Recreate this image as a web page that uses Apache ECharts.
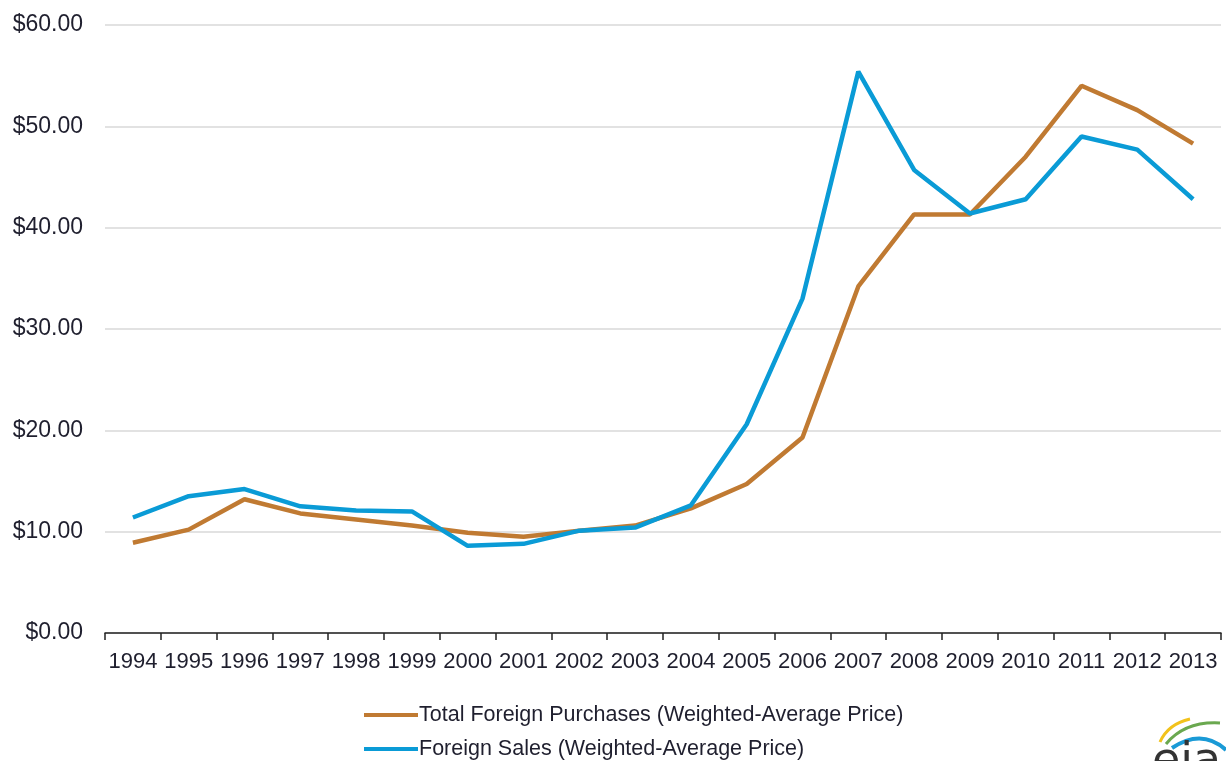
<!DOCTYPE html>
<html>
<head>
<meta charset="utf-8">
<script src="https://cdn.jsdelivr.net/npm/echarts@6/dist/echarts.min.js"></script>
<style>
  html, body { margin: 0; padding: 0; background: #fff; }
  #chart { width: 1226px; height: 761px; }
</style>
</head>
<body>
<div id="chart"></div>
<script>
const years = ['1994', '1995', '1996', '1997', '1998', '1999', '2000', '2001', '2002', '2003',
  '2004', '2005', '2006', '2007', '2008', '2009', '2010', '2011', '2012', '2013'];
const purchases = [8.9, 10.2, 13.2, 11.8, 11.2, 10.6, 9.9, 9.5, 10.1, 10.6,
  12.3, 14.7, 19.3, 34.2, 41.3, 41.3, 47.0, 54.0, 51.6, 48.3];
const sales = [11.4, 13.5, 14.2, 12.5, 12.1, 12.0, 8.6, 8.8, 10.1, 10.4,
  12.6, 20.6, 33.0, 55.4, 45.7, 41.4, 42.8, 49.0, 47.7, 42.8];

const chart = echarts.init(document.getElementById('chart'));
const textColor = '#1f1f2e';

const option = {
  animation: false,
  grid: { left: 105, right: 5, top: 25, bottom: 128 },
  legend: {
    orient: 'vertical',
    left: 364,
    top: 704,
    padding: 0,
    itemWidth: 54,
    itemHeight: 4,
    itemGap: 12,
    icon: 'rect',
    textStyle: { color: textColor, fontSize: 21.5, fontFamily: 'Liberation Sans', padding: [0, 0, 0, -4] },
    data: ['Total Foreign Purchases (Weighted-Average Price)', 'Foreign Sales (Weighted-Average Price)']
  },
  xAxis: {
    type: 'category',
    data: years,
    boundaryGap: true,
    axisLine: { show: true, lineStyle: { color: '#222', width: 1.5 } },
    axisTick: { show: true, inside: false, length: 7, lineStyle: { color: '#222', width: 1.5 } },
    axisLabel: { interval: 0, color: textColor, fontSize: 22, fontFamily: 'Liberation Sans', margin: 18 }
  },
  yAxis: {
    type: 'value',
    min: 0,
    max: 60,
    interval: 10,
    axisLine: { show: false },
    axisTick: { show: false },
    splitLine: { lineStyle: { color: '#d9d9d9', width: 1.5 } },
    axisLabel: {
      color: textColor, fontSize: 23, fontFamily: 'Liberation Sans', margin: 22,
      formatter: v => '$' + v.toFixed(2)
    }
  },
  series: [
    {
      name: 'Total Foreign Purchases (Weighted-Average Price)',
      type: 'line',
      data: purchases,
      symbol: 'none',
      itemStyle: { color: '#c07a32' },
      lineStyle: { color: '#c07a32', width: 4.5 }
    },
    {
      name: 'Foreign Sales (Weighted-Average Price)',
      type: 'line',
      data: sales,
      symbol: 'none',
      itemStyle: { color: '#0a9bd6' },
      lineStyle: { color: '#0a9bd6', width: 4.5 }
    }
  ],
  graphic: [
    {
      type: 'bezierCurve', shape: { x1: 1160, y1: 742, x2: 1190, y2: 719, cpx1: 1168, cpy1: 724 },
      style: { stroke: '#f2c21b', lineWidth: 3, fill: null }
    },
    {
      type: 'bezierCurve', shape: { x1: 1166, y1: 744, x2: 1220, y2: 723, cpx1: 1185, cpy1: 721 },
      style: { stroke: '#6aa84f', lineWidth: 3, fill: null }
    },
    {
      type: 'bezierCurve', shape: { x1: 1172, y1: 748, x2: 1226, y2: 750, cpx1: 1202, cpy1: 728 },
      style: { stroke: '#1a9ad6', lineWidth: 4, fill: null }
    },
    {
      type: 'text', left: 1152, top: 740,
      style: { text: 'eia', fill: '#333', font: '46px "DejaVu Sans"' }
    }
  ]
};

chart.setOption(option);
</script>
</body>
</html>
